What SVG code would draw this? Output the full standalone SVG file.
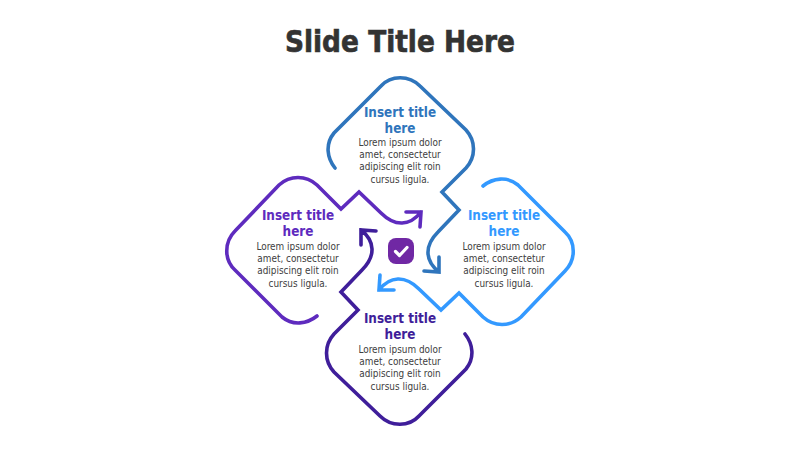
<svg xmlns="http://www.w3.org/2000/svg" xmlns:xlink="http://www.w3.org/1999/xlink" width="800" height="450" viewBox="0 0 800 450">
<style>
.ol{fill:none;stroke-width:3.600;stroke-linecap:round;stroke-linejoin:miter}
text{text-anchor:middle;font-family:"DejaVu Sans Condensed","DejaVu Sans",sans-serif}
.h{font-size:13.400px;font-weight:700}
.b{font-size:9.900px;fill:#404040}
.t{font-size:30px;font-weight:700;fill:#333;stroke:#333;stroke-width:.6px}
</style>
<defs>
<path id="shape" d="M335,168 C327,158 325,144 334,133 L381,86 C391,75 409,75 420,86 L466,130 C476,141 476,157 466,168 L442,192 L459,210 L438,232 C424,246 425,261 439,272 M439,257 L439,272 L424,271"/>
</defs>
<rect width="800" height="450" fill="#fff"/>
<text class="t" x="400" y="52" textLength="230" lengthAdjust="spacingAndGlyphs">Slide Title Here</text>
<g id="node-top">
<use xlink:href="#shape" href="#shape" class="ol" stroke="#2F75BC"/>
<text class="h" x="400" y="117" fill="#2F75BC">Insert title</text>
<text class="h" x="400" y="133" fill="#2F75BC">here</text>
<text class="b" x="400" y="146">Lorem ipsum dolor</text>
<text class="b" x="400" y="158">amet, consectetur</text>
<text class="b" x="400" y="170">adipiscing elit roin</text>
<text class="b" x="400" y="183">cursus ligula.</text>
</g>
<g id="node-right">
<use xlink:href="#shape" href="#shape" class="ol" stroke="#3399FF" transform="rotate(90 400 251)"/>
<text class="h" x="504" y="220" fill="#3399FF">Insert title</text>
<text class="h" x="504" y="236" fill="#3399FF">here</text>
<text class="b" x="504" y="250">Lorem ipsum dolor</text>
<text class="b" x="504" y="262">amet, consectetur</text>
<text class="b" x="504" y="274">adipiscing elit roin</text>
<text class="b" x="504" y="287">cursus ligula.</text>
</g>
<g id="node-bottom">
<use xlink:href="#shape" href="#shape" class="ol" stroke="#3F1E9A" transform="rotate(180 400 251)"/>
<text class="h" x="400" y="323" fill="#3F1E9A">Insert title</text>
<text class="h" x="400" y="339" fill="#3F1E9A">here</text>
<text class="b" x="400" y="353">Lorem ipsum dolor</text>
<text class="b" x="400" y="365">amet, consectetur</text>
<text class="b" x="400" y="377">adipiscing elit roin</text>
<text class="b" x="400" y="390">cursus ligula.</text>
</g>
<g id="node-left">
<use xlink:href="#shape" href="#shape" class="ol" stroke="#5E2BBE" transform="rotate(270 400 251)"/>
<text class="h" x="298" y="220" fill="#5E2BBE">Insert title</text>
<text class="h" x="298" y="236" fill="#5E2BBE">here</text>
<text class="b" x="298" y="250">Lorem ipsum dolor</text>
<text class="b" x="298" y="262">amet, consectetur</text>
<text class="b" x="298" y="274">adipiscing elit roin</text>
<text class="b" x="298" y="287">cursus ligula.</text>
</g>
<g id="node-center">
<rect x="388" y="238" width="26" height="26" rx="8" fill="#7028A4"/>
<path d="M395.500,251.500 L399.500,255.500 L407,247.500" fill="none" stroke="#fff" stroke-width="3.200" stroke-linecap="round" stroke-linejoin="round"/>
</g>
</svg>
